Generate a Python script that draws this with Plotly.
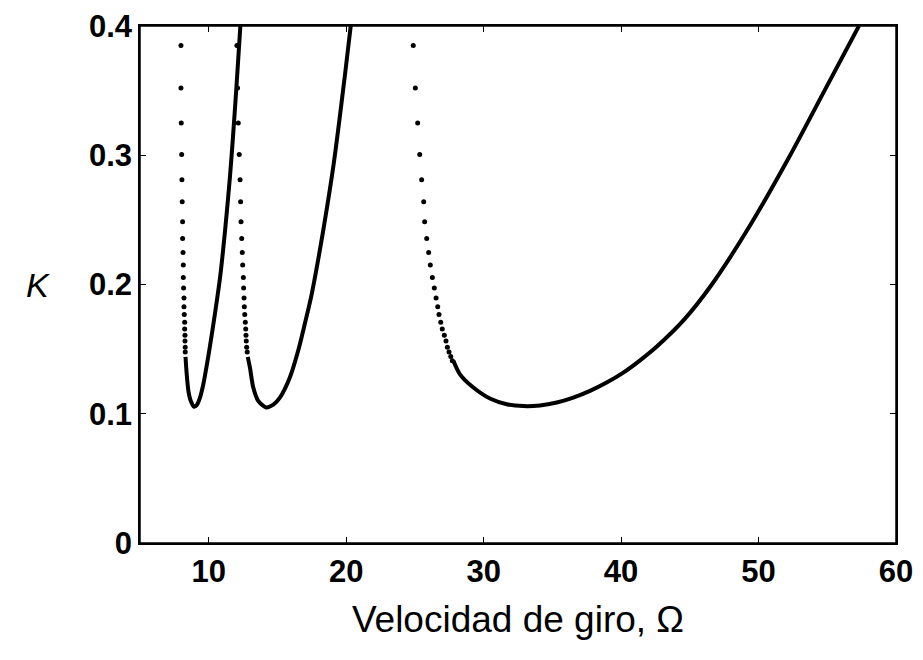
import plotly.graph_objects as go

# Common K levels of the sparse dotted points
k_dots = [0.385, 0.352, 0.325, 0.3005, 0.281, 0.264, 0.2485, 0.2356, 0.2248, 0.2151,
          0.2054, 0.1972, 0.1895, 0.1828, 0.1767, 0.1708, 0.1656, 0.1608, 0.1562, 0.1515,
          0.1477]
k_dots3 = k_dots + [0.1442, 0.1410]

# Curve 1 – dotted left branch
om1_dots = [7.98, 7.98, 8.00, 8.03, 8.05, 8.07, 8.10, 8.10, 8.13, 8.15, 8.15, 8.17,
            8.20, 8.20, 8.22, 8.25, 8.25, 8.27, 8.27, 8.29, 8.29]
# Curve 1 – dense (solid-looking) part
om1_line = [8.31, 8.40, 8.52, 8.69, 8.93, 9.15, 9.37, 9.61, 9.85, 10.10, 10.46, 10.82,
            11.18, 11.55, 11.79, 12.03, 12.30]
k1_line = [0.144, 0.1305, 0.1177, 0.110, 0.1054, 0.107, 0.1126, 0.123, 0.137, 0.153,
           0.178, 0.205, 0.2408, 0.284, 0.318, 0.355, 0.400]

# Curve 2
om2_dots = [12.05, 12.10, 12.15, 12.22, 12.28, 12.32, 12.35, 12.40, 12.44, 12.47, 12.52,
            12.54, 12.57, 12.59, 12.62, 12.66, 12.69, 12.71, 12.73, 12.76, 12.80]
om2_line = [12.84, 13.00, 13.24, 13.60, 14.17, 14.70, 15.19, 15.90, 16.50, 17.00, 17.50,
            18.30, 19.10, 19.91, 20.33]
k2_line = [0.144, 0.1356, 0.1203, 0.110, 0.1049, 0.107, 0.1126, 0.128, 0.1485, 0.170,
           0.193, 0.240, 0.294, 0.362, 0.400]

# Curve 3
om3_dots = [24.88, 25.03, 25.20, 25.35, 25.49, 25.64, 25.71, 25.86, 26.00, 26.12, 26.27,
            26.41, 26.54, 26.66, 26.75, 26.88, 26.99, 27.14, 27.26, 27.36, 27.48, 27.61,
            27.72]
om3_line = [27.80, 28.28, 29.25, 30.46, 31.68, 32.89, 34.10, 35.32, 36.52, 37.74, 38.95,
            40.16, 41.38, 42.60, 44.60, 46.60, 49.40, 52.30, 54.80, 57.30]
k3_line = [0.141, 0.1305, 0.1203, 0.1118, 0.1074, 0.1059, 0.1064, 0.1087, 0.1125,
           0.1177, 0.1241, 0.1318, 0.1413, 0.152, 0.173, 0.200, 0.246, 0.300, 0.350, 0.400]

x_ticks = [10, 20, 30, 40, 50, 60]
y_ticks = [0, 0.1, 0.2, 0.3, 0.4]
y_ticktext = ["0", "0.1", "0.2", "0.3", "0.4"]

fig = go.Figure()
dot_style = dict(mode="markers", marker=dict(color="black", size=5), showlegend=False,
                 hoverinfo="skip")
line_style = dict(mode="lines",
                  line=dict(color="black", width=4, shape="spline", smoothing=0.8),
                  showlegend=False, hoverinfo="skip")

fig.add_trace(go.Scatter(x=om1_dots, y=k_dots, **dot_style))
fig.add_trace(go.Scatter(x=om1_line, y=k1_line, **line_style))
fig.add_trace(go.Scatter(x=om2_dots, y=k_dots, **dot_style))
fig.add_trace(go.Scatter(x=om2_line, y=k2_line, **line_style))
fig.add_trace(go.Scatter(x=om3_dots, y=k_dots3, **dot_style))
fig.add_trace(go.Scatter(x=om3_line, y=k3_line, **line_style))

axis_common = dict(showgrid=False, zeroline=False, showline=True, linecolor="black",
                   linewidth=1.5, mirror="allticks", ticks="inside", ticklen=6,
                   tickcolor="black", tickwidth=1.2, automargin=False,
                   ticklabeloverflow="allow",
                   tickfont=dict(family="Liberation Sans, Arial", size=31, color="black",
                                 weight="bold"))

# page body adds an 8 px margin on every side: keep the figure inside the window
fig.update_layout(
    width=907, height=644,
    margin=dict(l=132, r=19, t=18, b=109),
    paper_bgcolor="white", plot_bgcolor="white",
    xaxis=dict(range=[5, 60], tickvals=x_ticks, **axis_common,
               title=dict(text="Velocidad de giro, Ω",
                          font=dict(family="Liberation Sans, Arial", size=37, color="black"),
                          standoff=18)),
    yaxis=dict(range=[0, 0.4], tickvals=y_ticks, ticktext=y_ticktext, **axis_common),
    shapes=[dict(type="rect", xref="paper", yref="paper", x0=0, y0=0, x1=1, y1=1,
                 line=dict(color="black", width=1.5), layer="above")],
    annotations=[dict(text="<i>K</i>", x=-0.135, xref="paper", xanchor="center",
                      y=0.2, yref="y", yanchor="middle", showarrow=False,
                      font=dict(family="Liberation Sans, Arial", size=34, color="black"))],
)

fig.write_html("out.html")
